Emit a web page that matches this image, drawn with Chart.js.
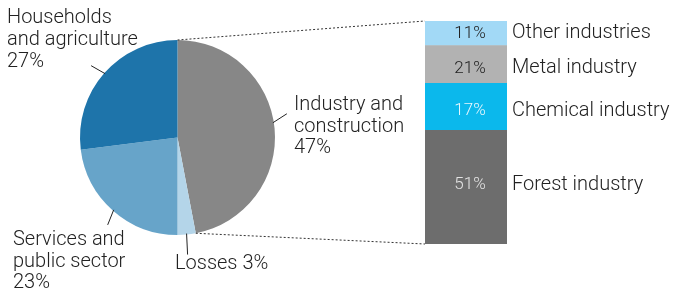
<!DOCTYPE html>
<html>
<head>
<meta charset="utf-8">
<script src="https://cdn.jsdelivr.net/npm/chart.js@4.4.1/dist/chart.umd.min.js"></script>
<style>
  html, body { margin: 0; padding: 0; background: #ffffff; }
  #wrap { position: relative; width: 673px; height: 288px; overflow: hidden; }
  canvas { position: absolute; left: 0; top: 0; }
</style>
</head>
<body>
<div id="wrap">
  <canvas id="pie" width="673" height="288"></canvas>
  <canvas id="bar" width="673" height="288"></canvas>
</div>
<script>
// ---- data ----
const pieCategories = ['Industry and construction', 'Losses', 'Services and public sector', 'Households and agriculture'];
const pieValues = [47, 3, 23, 27];
const pieLabelLines = [
  ['Industry and', 'construction', '47%'],
  ['Losses 3%'],
  ['Services and', 'public sector', '23%'],
  ['Households', 'and agriculture', '27%']
];
const barCategories = ['Forest industry', 'Chemical industry', 'Metal industry', 'Other industries'];
const barValues = [51, 21, 17, 11];
const barValueLabels = ['51%', '17%', '21%', '11%'];

// ---- styles ----
const pieColors = ['#878787', '#b4d5e9', '#67a4c9', '#1e74aa'];
const barColors = ['#6d6d6d', '#0bb8ec', '#b2b2b2', '#a2d9f6'];
const barValueColors = ['#e4e4e4', '#e8f6fd', '#222222', '#222222'];
const textColor = '#222222';
const labelFont = '300 20px Roboto, "Liberation Sans", sans-serif';
const valueFont = '300 17px Roboto, "Liberation Sans", sans-serif';
// label placement (style): text anchor x, first baseline y, line height, leader position in slice, leader vector
const pieLabelStyle = [
  { x: 294, y: 110, lh: 21.5, frac: 0.48, dx: 14, dy: -9 },
  { x: 175, y: 269, lh: 21, frac: 0.5, dx: 1, dy: 21 },
  { x: 13, y: 245, lh: 21.5, frac: 0.5, dx: -6, dy: 15 },
  { x: 7, y: 23, lh: 22, frac: 0.5, dx: -14, dy: -8 }
];
const barLabelOffsets = [-2, 4, 4, 0];

const pieLabelsPlugin = {
  id: 'pieLabels',
  afterDatasetsDraw(chart) {
    const ctx = chart.ctx;
    const meta = chart.getDatasetMeta(0);
    ctx.save();
    ctx.strokeStyle = textColor;
    ctx.lineWidth = 1;
    ctx.fillStyle = textColor;
    ctx.font = labelFont;
    ctx.textAlign = 'left';
    ctx.textBaseline = 'alphabetic';
    meta.data.forEach((arc, i) => {
      const st = pieLabelStyle[i];
      const a = arc.startAngle + (arc.endAngle - arc.startAngle) * st.frac;
      const r = arc.outerRadius - 1;
      const sx = arc.x + r * Math.cos(a);
      const sy = arc.y + r * Math.sin(a);
      ctx.beginPath();
      ctx.moveTo(sx, sy);
      ctx.lineTo(sx + st.dx, sy + st.dy);
      ctx.stroke();
      pieLabelLines[i].forEach((line, k) => {
        ctx.fillText(line, st.x, st.y + k * st.lh);
      });
    });
    ctx.restore();
  }
};

const pieChart = new Chart(document.getElementById('pie'), {
  type: 'pie',
  data: {
    labels: pieCategories,
    datasets: [{ data: pieValues, backgroundColor: pieColors, borderWidth: 0 }]
  },
  options: {
    responsive: false,
    animation: false,
    devicePixelRatio: 1,
    layout: { padding: { left: 80, right: 398, top: 40, bottom: 53 } },
    plugins: { legend: { display: false }, tooltip: { enabled: false } }
  },
  plugins: [pieLabelsPlugin]
});

const barLabelsPlugin = {
  id: 'barLabels',
  afterDatasetsDraw(chart) {
    const ctx = chart.ctx;
    ctx.save();
    // connectors to pie
    const pm = pieChart.getDatasetMeta(0);
    const arc = pm.data[0];
    const topPt = { x: arc.x + arc.outerRadius * Math.cos(arc.startAngle), y: arc.y + arc.outerRadius * Math.sin(arc.startAngle) };
    const botPt = { x: arc.x + arc.outerRadius * Math.cos(arc.endAngle), y: arc.y + arc.outerRadius * Math.sin(arc.endAngle) };
    const first = chart.getDatasetMeta(0).data[0];
    const last = chart.getDatasetMeta(chart.data.datasets.length - 1).data[0];
    const left = first.x - first.width / 2;
    ctx.strokeStyle = '#333333';
    ctx.lineWidth = 1;
    ctx.setLineDash([2, 2]);
    ctx.beginPath();
    ctx.moveTo(topPt.x, topPt.y);
    ctx.lineTo(left, last.y);
    ctx.moveTo(botPt.x, botPt.y);
    ctx.lineTo(left, first.base);
    ctx.stroke();
    ctx.setLineDash([]);
    // labels
    ctx.textBaseline = 'middle';
    chart.data.datasets.forEach((ds, i) => {
      const el = chart.getDatasetMeta(i).data[0];
      const cy = (el.y + el.base) / 2 + barLabelOffsets[i];
      ctx.font = valueFont;
      ctx.fillStyle = barValueColors[i];
      ctx.textAlign = 'center';
      ctx.fillText(barValueLabels[i], el.x + 4, cy);
      ctx.font = labelFont;
      ctx.fillStyle = textColor;
      ctx.textAlign = 'left';
      ctx.fillText(barCategories[i], el.x + el.width / 2 + 5, cy);
    });
    ctx.restore();
  }
};

new Chart(document.getElementById('bar'), {
  type: 'bar',
  data: {
    labels: ['Industry'],
    datasets: barCategories.map((c, i) => ({
      label: c,
      data: [barValues[i]],
      backgroundColor: barColors[i],
      borderWidth: 0,
      categoryPercentage: 1,
      barPercentage: 1
    }))
  },
  options: {
    responsive: false,
    animation: false,
    devicePixelRatio: 1,
    layout: { padding: { left: 425, right: 166, top: 21, bottom: 44 } },
    scales: {
      x: { display: false, stacked: true },
      y: { display: false, stacked: true, min: 0, max: 100 }
    },
    plugins: { legend: { display: false }, tooltip: { enabled: false } }
  },
  plugins: [barLabelsPlugin]
});
</script>
</body>
</html>
